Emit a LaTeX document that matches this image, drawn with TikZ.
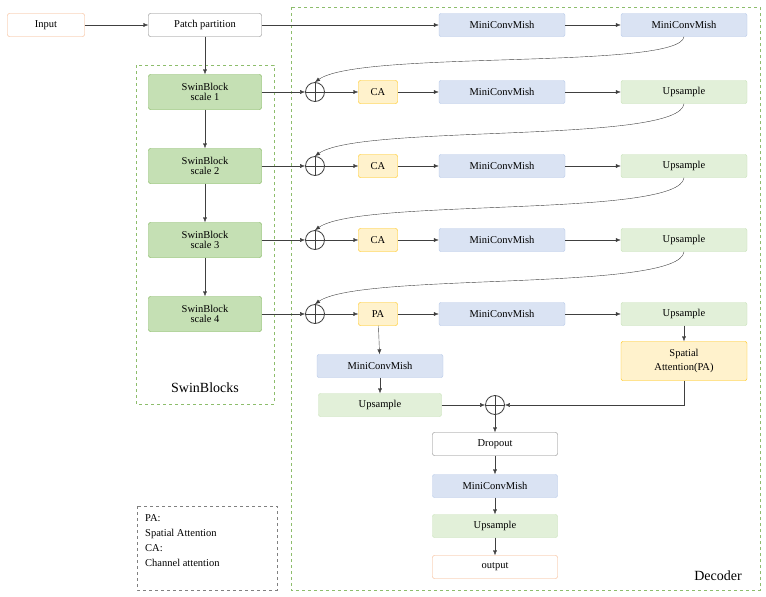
\documentclass[tikz,border=0pt]{standalone}
\usepackage{fontspec}
\setmainfont{Liberation Serif}
\usetikzlibrary{positioning,arrows.meta}
\definecolor{convblue}{HTML}{DAE3F3}
\definecolor{convedge}{HTML}{B4C7E7}
\definecolor{upgreen}{HTML}{E2F0D9}
\definecolor{upedge}{HTML}{C5E0B4}
\definecolor{swingreen}{HTML}{C5E0B4}
\definecolor{swinedge}{HTML}{70AD47}
\definecolor{attyellow}{HTML}{FFF2CC}
\definecolor{attedge}{HTML}{FFC000}
\definecolor{ioorange}{HTML}{F4B183}
\definecolor{linegray}{HTML}{404040}

\begin{document}
\begin{tikzpicture}[x=1pt,y=-1pt,font=\fontsize{10.5}{12}\selectfont,
    box/.style={draw,rounded corners=2pt,minimum height=23pt,inner sep=1pt,align=center},
    conv/.style={box,fill=convblue,draw=convedge,minimum width=126pt},
    upsm/.style={box,fill=upgreen,draw=upedge,minimum width=126pt},
    swin/.style={box,fill=swingreen,draw=swinedge,minimum width=113pt,minimum height=35pt,font=\fontsize{10.5}{10}\selectfont},
    att/.style={box,fill=attyellow,draw=attedge,minimum width=39pt},
    plain/.style={box,draw=gray,minimum width=113pt},
    io/.style={box,draw=ioorange},
    plus/.style={circle,draw=linegray,thick,minimum size=19pt,inner sep=0pt,
        path picture={\draw[linegray,thick] (path picture bounding box.north)--(path picture bounding box.south)
        (path picture bounding box.west)--(path picture bounding box.east);}},
    arr/.style={-{Latex[length=5pt,width=4pt]},draw=linegray},
    group/.style={draw=swinedge!80,dashed},
    ]
    \useasboundingbox (0,0) rectangle (766,597);

    % Frames
    \draw[group] (291,7) rectangle (760,590);
    \draw[group] (136,65) rectangle (274,404);
    \draw[gray,dashed] (137,506) rectangle (277,590);
    \node[font=\fontsize{14}{16}\selectfont] at (205,388) {SwinBlocks};
    \node[font=\fontsize{14}{16}\selectfont] at (718,576) {Decoder};
    \node[anchor=north west,align=left,inner sep=0pt,font=\fontsize{10.5}{15}\selectfont] at (145,514)
        {PA:\\Spatial Attention\\CA:\\Channel attention};

    % Encoder
    \node[io,minimum width=77pt] (input) at (46,25) {Input};
    \node[plain] (patch) at (205,25) {Patch partition};
    \node[conv] (top1) at (502,25) {MiniConvMish};
    \node[conv] (top2) at (684,25) {MiniConvMish};
    \foreach \i/\y in {1/92,2/166,3/240,4/314}{
        \node[swin] (sw\i) at (205,\y) {SwinBlock\\scale \i};
        \node[plus] (add\i) at (315,\y) {};
        \node[conv] (mc\i) at (502,\y) {MiniConvMish};
        \node[upsm] (up\i) at (684,\y) {Upsample};
        \draw[arr] (sw\i) -- (add\i);
        \draw[arr] (mc\i) -- (up\i);
    }
    \node[att] (at1) at (378,92) {CA};
    \node[att] (at2) at (378,166) {CA};
    \node[att] (at3) at (378,240) {CA};
    \node[att] (at4) at (378,314) {PA};
    \foreach \i in {1,2,3,4}{
        \draw[arr] (add\i) -- (at\i);
        \draw[arr] (at\i) -- (mc\i);
    }
    \draw[arr] (input) -- (patch);
    \draw[arr] (patch.east) -- (top1);
    \draw[arr] (top1) -- (top2);
    \draw[arr] (patch) -- (sw1);
    \draw[arr] (sw1) -- (sw2);
    \draw[arr] (sw2) -- (sw3);
    \draw[arr] (sw3) -- (sw4);

    % Skip curves
    \draw[arr] (top2.south) .. controls (680,70) and (360,50) .. (add1.north);
    \draw[arr] (up1.south) .. controls (680,144) and (360,124) .. (add2.north);
    \draw[arr] (up2.south) .. controls (680,218) and (360,198) .. (add3.north);
    \draw[arr] (up3.south) .. controls (680,292) and (360,272) .. (add4.north);

    % Output branch
    \node[box,fill=attyellow,draw=attedge,minimum width=126pt,minimum height=39pt,font=\fontsize{10.5}{14}\selectfont] (spa) at (684,361) {Spatial\\Attention(PA)};
    \node[conv] (lmc) at (380,366) {MiniConvMish};
    \node[upsm,minimum width=123pt] (lup) at (380,405) {Upsample};
    \node[plus] (addout) at (495,405) {};
    \node[plain,minimum width=125pt] (drop) at (495,444) {Dropout};
    \node[conv,minimum width=125pt] (omc) at (495,486) {MiniConvMish};
    \node[upsm,minimum width=125pt] (oup) at (495,526) {Upsample};
    \node[io,minimum width=125pt] (output) at (495,567) {output};
    \draw[arr] (up4) -- (spa);
    \draw[arr] (at4) -- (lmc);
    \draw[arr] (lmc) -- (lup);
    \draw[arr] (lup) -- (addout);
    \draw[arr] (spa.south) |- (addout);
    \draw[arr] (addout) -- (drop);
    \draw[arr] (drop) -- (omc);
    \draw[arr] (omc) -- (oup);
    \draw[arr] (oup) -- (output);
\end{tikzpicture}
\end{document}
